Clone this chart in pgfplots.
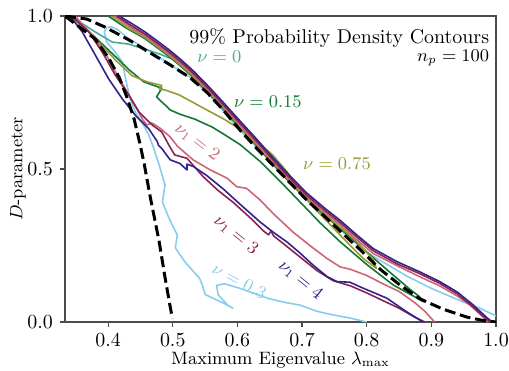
\documentclass[border=0pt]{standalone}
\usepackage{pgfplots}
\pgfplotsset{compat=1.18}
\definecolor{cteal}{HTML}{44AA99}
\definecolor{cgreen}{HTML}{117733}
\definecolor{colive}{HTML}{999933}
\definecolor{crose}{HTML}{CC6677}
\definecolor{cwine}{HTML}{882255}
\definecolor{cindigo}{HTML}{332288}
\definecolor{ccyan}{HTML}{88CCEE}
\begin{document}
\begin{tikzpicture}
\path[use as bounding box] (-32.5bp,-24.5bp) rectangle (222bp,161bp);
\begin{axis}[
  width=215.5bp, height=153bp, scale only axis,
  xmin=0.3333, xmax=1.0, ymin=0, ymax=1,
  xtick={0.4,0.5,0.6,0.7,0.8,0.9,1.0}, ytick={0,0.5,1},
  xticklabel style={/pgf/number format/.cd, fixed, fixed zerofill, precision=1},
  yticklabel style={/pgf/number format/.cd, fixed, fixed zerofill, precision=1},
  tick align=outside, tick pos=left, major tick length=2.5bp,
  axis line style={black!70, line width=0.6pt},
  tick style={black!70, line width=0.6pt},
  ticklabel style={font=\fontsize{10}{12}\selectfont},
  xlabel={Maximum Eigenvalue $\lambda_{\max}$},
  ylabel={$D$-parameter},
  label style={font=\fontsize{9}{11}\selectfont},
  xlabel style={at={(axis description cs:0.5,-0.125)}, anchor=center},
  ylabel style={at={(axis description cs:-0.109,0.5)}, anchor=center},
  every axis plot/.append style={line width=0.8pt, line join=round},
  clip=true,
]
% nu = 0.3 (cyan)
\addplot[ccyan] coordinates {(1.0,0.02)(0.975,0.045)(0.944,0.07)(0.90,0.11)(0.862,0.15)(0.83,0.19)(0.80,0.228)(0.76,0.3)(0.72,0.385)(0.68,0.465)(0.64,0.55)(0.60,0.635)(0.56,0.735)(0.53,0.795)(0.49,0.85)(0.46,0.89)(0.43,0.928)(0.415,0.955)(0.405,0.965)(0.398,0.962)(0.394,0.948)(0.398,0.915)(0.411,0.882)(0.422,0.850)(0.425,0.817)(0.429,0.775)(0.434,0.729)(0.442,0.686)(0.452,0.654)(0.463,0.611)(0.471,0.565)(0.479,0.513)(0.488,0.448)(0.484,0.392)(0.494,0.340)(0.507,0.284)(0.504,0.242)(0.519,0.196)(0.541,0.144)(0.546,0.12)(0.55,0.09)(0.565,0.075)(0.58,0.06)(0.593,0.045)(0.585,0.055)(0.57,0.09)(0.568,0.12)(0.58,0.125)(0.604,0.11)(0.624,0.095)(0.646,0.078)(0.671,0.065)(0.697,0.055)(0.723,0.035)(0.748,0.023)(0.774,0.013)(0.80,0.0)};
% nu = 0 (teal)
\addplot[cteal] coordinates {(0.345,1.0)(0.36,0.975)(0.380,0.948)(0.406,0.915)(0.432,0.908)(0.457,0.892)(0.483,0.873)(0.510,0.850)(0.535,0.815)(0.548,0.778)(0.56,0.745)(0.58,0.70)(0.60,0.65)(0.62,0.60)(0.62,0.612)(0.604,0.648)(0.578,0.708)(0.553,0.765)(0.527,0.82)(0.51,0.852)(0.494,0.88)(0.475,0.91)(0.457,0.938)(0.437,0.965)(0.41,1.0)};
% nu = 0.15 (green)
\addplot[cgreen] coordinates {(0.343,1.0)(0.37,0.95)(0.395,0.9)(0.415,0.86)(0.432,0.825)(0.455,0.785)(0.483,0.764)(0.475,0.736)(0.480,0.725)(0.491,0.704)(0.496,0.693)(0.51,0.68)(0.534,0.663)(0.561,0.637)(0.578,0.615)(0.604,0.58)(0.635,0.525)(0.666,0.46)(0.697,0.392)(0.728,0.324)(0.759,0.262)(0.80,0.188)(0.841,0.121)(0.878,0.078)(0.888,0.066)(0.882,0.082)(0.865,0.11)(0.84,0.155)(0.81,0.21)(0.785,0.258)(0.759,0.306)(0.735,0.348)(0.707,0.40)(0.681,0.456)(0.655,0.515)(0.630,0.575)(0.604,0.635)(0.578,0.696)(0.553,0.753)(0.527,0.808)(0.51,0.84)(0.494,0.868)(0.475,0.898)(0.457,0.926)(0.427,0.962)(0.40,1.0)};
% nu = 0.75 (olive)
\addplot[colive] coordinates {(0.34,1.0)(0.37,0.95)(0.392,0.90)(0.412,0.855)(0.437,0.805)(0.46,0.785)(0.483,0.773)(0.479,0.762)(0.49,0.757)(0.51,0.742)(0.531,0.718)(0.557,0.688)(0.58,0.662)(0.604,0.63)(0.630,0.59)(0.655,0.545)(0.677,0.49)(0.697,0.43)(0.72,0.37)(0.745,0.315)(0.77,0.26)(0.795,0.207)(0.815,0.175)(0.81,0.205)(0.785,0.262)(0.759,0.31)(0.735,0.352)(0.707,0.404)(0.681,0.46)(0.655,0.519)(0.630,0.579)(0.604,0.639)(0.578,0.70)(0.553,0.757)(0.527,0.812)(0.51,0.844)(0.494,0.872)(0.475,0.902)(0.457,0.93)(0.43,0.962)(0.405,1.0)};
% nu1 = 2 (rose)
\addplot[crose] coordinates {(0.349,1.0)(0.375,0.938)(0.395,0.882)(0.414,0.807)(0.432,0.742)(0.454,0.66)(0.460,0.644)(0.468,0.65)(0.480,0.634)(0.496,0.605)(0.507,0.575)(0.532,0.529)(0.558,0.497)(0.584,0.47)(0.599,0.442)(0.614,0.437)(0.635,0.399)(0.655,0.355)(0.686,0.294)(0.712,0.25)(0.739,0.207)(0.759,0.18)(0.775,0.172)(0.80,0.152)(0.825,0.125)(0.85,0.1)(0.875,0.062)(0.89,0.035)(0.905,0.0)};
\addplot[crose] coordinates {(0.41,1.0)(0.433,0.965)(0.457,0.934)(0.475,0.906)(0.494,0.876)(0.51,0.848)(0.527,0.816)(0.553,0.761)(0.578,0.704)(0.604,0.643)(0.630,0.583)(0.655,0.523)(0.681,0.464)(0.707,0.408)(0.735,0.358)(0.759,0.318)(0.785,0.268)(0.810,0.224)(0.847,0.184)(0.88,0.15)(0.913,0.118)(0.94,0.085)(0.96,0.055)(0.982,0.012)(0.988,0.0)};
% nu1 = 3 (wine)
\addplot[cwine] coordinates {(0.344,1.0)(0.370,0.948)(0.391,0.882)(0.411,0.807)(0.432,0.742)(0.448,0.686)(0.468,0.644)(0.483,0.621)(0.494,0.578)(0.503,0.546)(0.522,0.535)(0.547,0.475)(0.57,0.43)(0.594,0.39)(0.62,0.34)(0.64,0.298)(0.648,0.285)(0.652,0.297)(0.656,0.281)(0.67,0.258)(0.697,0.212)(0.723,0.168)(0.748,0.135)(0.775,0.118)(0.80,0.095)(0.825,0.07)(0.85,0.045)(0.875,0.015)(0.89,0.0)};
\addplot[cwine] coordinates {(0.413,1.0)(0.435,0.97)(0.457,0.941)(0.475,0.913)(0.494,0.883)(0.51,0.855)(0.527,0.823)(0.553,0.768)(0.578,0.711)(0.604,0.65)(0.630,0.59)(0.655,0.53)(0.681,0.471)(0.707,0.415)(0.735,0.365)(0.759,0.325)(0.785,0.277)(0.810,0.233)(0.847,0.19)(0.882,0.158)(0.913,0.126)(0.940,0.092)(0.964,0.05)(0.984,0.012)(0.991,0.0)};
% nu1 = 4 (indigo)
\addplot[cindigo] coordinates {(0.341,1.0)(0.360,0.948)(0.380,0.873)(0.401,0.794)(0.422,0.729)(0.442,0.676)(0.463,0.631)(0.476,0.59)(0.478,0.577)(0.483,0.567)(0.496,0.53)(0.511,0.518)(0.522,0.497)(0.522,0.516)(0.532,0.508)(0.553,0.478)(0.578,0.435)(0.604,0.385)(0.635,0.327)(0.655,0.294)(0.677,0.261)(0.697,0.225)(0.717,0.186)(0.739,0.148)(0.754,0.132)(0.774,0.13)(0.794,0.111)(0.831,0.078)(0.862,0.033)(0.887,0.0)};
\addplot[cindigo] coordinates {(0.417,1.0)(0.437,0.975)(0.457,0.948)(0.475,0.92)(0.494,0.89)(0.51,0.862)(0.527,0.83)(0.553,0.775)(0.578,0.718)(0.604,0.657)(0.630,0.597)(0.655,0.537)(0.681,0.478)(0.707,0.422)(0.735,0.372)(0.759,0.332)(0.785,0.284)(0.810,0.24)(0.847,0.197)(0.882,0.164)(0.913,0.132)(0.940,0.098)(0.964,0.057)(0.986,0.014)(0.994,0.0)};
% dashed reference curves
\addplot[black, line width=1.5pt, dash pattern=on 5.5pt off 2.4pt] coordinates {(0.3333,1.0)(0.367,0.99)(0.395,0.964)(0.432,0.922)(0.463,0.882)(0.494,0.843)(0.527,0.798)(0.553,0.75)(0.578,0.693)(0.604,0.627)(0.630,0.567)(0.655,0.512)(0.681,0.456)(0.707,0.399)(0.735,0.345)(0.76,0.295)(0.79,0.236)(0.821,0.172)(0.852,0.12)(0.882,0.076)(0.918,0.042)(0.955,0.016)(0.98,0.005)(1.0,0.0)};
\addplot[black, line width=1.5pt, dash pattern=on 5.5pt off 2.4pt] coordinates {(0.3333,1.0)(0.355,0.965)(0.380,0.925)(0.401,0.862)(0.417,0.80)(0.429,0.735)(0.440,0.665)(0.449,0.585)(0.456,0.515)(0.465,0.41)(0.479,0.262)(0.488,0.146)(0.496,0.05)(0.4995,0.012)};
% annotations
\begin{scope}[every node/.style={font=\fontsize{9}{11}\selectfont}]
\node[cteal] at (axis cs:0.572,0.866) {$\nu = 0$};
\node[cgreen] at (axis cs:0.647,0.719) {$\nu = 0.15$};
\node[colive] at (axis cs:0.754,0.516) {$\nu = 0.75$};
\node[crose, rotate=-38] at (axis cs:0.538,0.588) {$\nu_1 = 2$};
\node[cwine, rotate=-39] at (axis cs:0.598,0.284) {$\nu_1 = 3$};
\node[cindigo, rotate=-39] at (axis cs:0.698,0.137) {$\nu_1 = 4$};
\node[ccyan, rotate=-28] at (axis cs:0.603,0.134) {$\nu = 0.3$};
\node[anchor=north east, align=right, inner sep=0pt] at (rel axis cs:0.985,0.96) {\fontsize{10}{12}\selectfont 99\% Probability Density Contours\\[-2pt] $n_p = 100$};
\end{scope}
\end{axis}
\end{tikzpicture}
\end{document}
